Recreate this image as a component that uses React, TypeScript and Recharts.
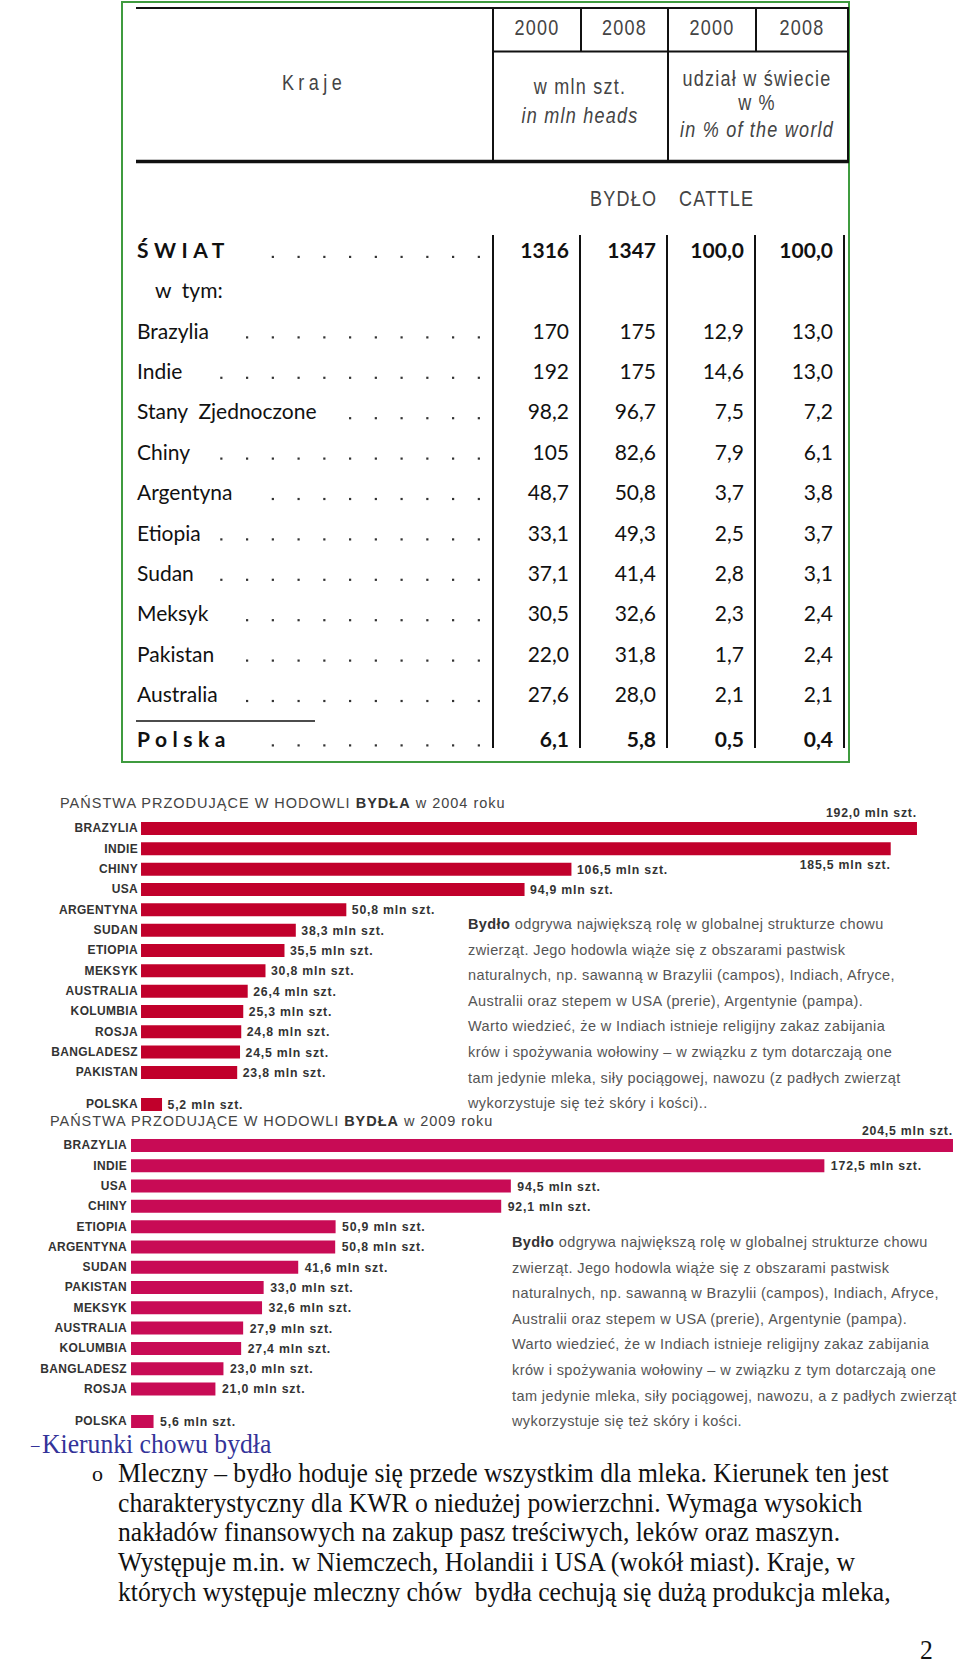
import React from 'react';
import { BarChart, Bar, XAxis, YAxis, LabelList } from 'recharts';

// ---------------- Table data ----------------
const headerYears = ['2000', '2008', '2000', '2008'];
const tableCountries = ['Brazylia', 'Indie', 'Stany\u00a0 Zjednoczone', 'Chiny', 'Argentyna', 'Etiopia', 'Sudan', 'Meksyk', 'Pakistan', 'Australia'];
const heads2000 = ['170', '192', '98,2', '105', '48,7', '33,1', '37,1', '30,5', '22,0', '27,6'];
const heads2008 = ['175', '175', '96,7', '82,6', '50,8', '49,3', '41,4', '32,6', '31,8', '28,0'];
const share2000 = ['12,9', '14,6', '7,5', '7,9', '3,7', '2,5', '2,8', '2,3', '1,7', '2,1'];
const share2008 = ['13,0', '13,0', '7,2', '6,1', '3,8', '3,7', '3,1', '2,4', '2,4', '2,1'];
const worldLabel = 'ŚWIAT';
const worldValues = ['1316', '1347', '100,0', '100,0'];
const polandLabel = 'Polska';
const polandValues = ['6,1', '5,8', '0,5', '0,4'];

// ---------------- Chart data ----------------
const cats2004 = ['BRAZYLIA', 'INDIE', 'CHINY', 'USA', 'ARGENTYNA', 'SUDAN', 'ETIOPIA', 'MEKSYK', 'AUSTRALIA', 'KOLUMBIA', 'ROSJA', 'BANGLADESZ', 'PAKISTAN'];
const vals2004 = [192.0, 185.5, 106.5, 94.9, 50.8, 38.3, 35.5, 30.8, 26.4, 25.3, 24.8, 24.5, 23.8];
const cats2009 = ['BRAZYLIA', 'INDIE', 'USA', 'CHINY', 'ETIOPIA', 'ARGENTYNA', 'SUDAN', 'PAKISTAN', 'MEKSYK', 'AUSTRALIA', 'KOLUMBIA', 'BANGLADESZ', 'ROSJA'];
const vals2009 = [204.5, 172.5, 94.5, 92.1, 50.9, 50.8, 41.6, 33.0, 32.6, 27.9, 27.4, 23.0, 21.0];
const polandCat = ['POLSKA'];
const poland2004 = [5.2];
const poland2009 = [5.6];

// ---------------- Text ----------------
const title2004 = ['PAŃSTWA PRZODUJĄCE W HODOWLI ', 'BYDŁA', ' w 2004 roku'];
const title2009 = ['PAŃSTWA PRZODUJĄCE W HODOWLI ', 'BYDŁA', ' w 2009 roku'];
const paraLead = 'Bydło';
const para2004 = [
  ' odgrywa największą rolę w globalnej strukturze chowu',
  'zwierząt. Jego hodowla wiąże się z obszarami pastwisk',
  'naturalnych, np. sawanną w Brazylii (campos), Indiach, Afryce,',
  'Australii oraz stepem w USA (prerie), Argentynie (pampa).',
  'Warto wiedzieć, że w Indiach istnieje religijny zakaz zabijania',
  'krów i spożywania wołowiny – w związku z tym dotarczają one',
  'tam jedynie mleka, siły pociągowej, nawozu (z padłych zwierząt',
  'wykorzystuje się też skóry i kości)..',
];
const para2009 = [
  ' odgrywa największą rolę w globalnej strukturze chowu',
  'zwierząt. Jego hodowla wiąże się z obszarami pastwisk',
  'naturalnych, np. sawanną w Brazylii (campos), Indiach, Afryce,',
  'Australii oraz stepem w USA (prerie), Argentynie (pampa).',
  'Warto wiedzieć, że w Indiach istnieje religijny zakaz zabijania',
  'krów i spożywania wołowiny – w związku z tym dotarczają one',
  'tam jedynie mleka, siły pociągowej, nawozu, a z padłych zwierząt',
  'wykorzystuje się też skóry i kości.',
];
const sectionHeading = 'Kierunki chowu bydła';
const bodyLines = [
  'Mleczny – bydło hoduje się przede wszystkim dla mleka. Kierunek ten jest',
  'charakterystyczny dla KWR o niedużej powierzchni. Wymaga wysokich',
  'nakładów finansowych na zakup pasz treściwych, leków oraz maszyn.',
  'Występuje m.in. w Niemczech, Holandii i USA (wokół miast). Kraje, w',
  'których występuje mleczny chów\u00a0 bydła cechują się dużą produkcja mleka,',
];
const pageNumber = '2';

// ---------------- helpers ----------------
const fmt = (v: number) => v.toFixed(1).replace('.', ',') + ' mln szt.';

let measureCtx: CanvasRenderingContext2D | null = null;
function textWidth(t: string, font: string, spacing: number) {
  if (typeof document === 'undefined') return t.length * 10;
  if (!measureCtx) measureCtx = document.createElement('canvas').getContext('2d');
  if (!measureCtx) return t.length * 10;
  measureCtx.font = font;
  return measureCtx.measureText(t).width + spacing * t.length;
}

const CategoryTick = (props: any) => {
  const { x, y, payload } = props;
  return (
    <text x={x} y={y} dy="0.36em" textAnchor="end" fontFamily='"Liberation Sans", Arial, sans-serif'
      fontWeight="bold" fontSize={12} fill="#333" letterSpacing={0.35}>
      {payload.value}
    </text>
  );
};

const makeLabel = (modes: string[], gap: number, aboveOff: number) => (props: any) => {
  const vb = props.viewBox && props.viewBox.width != null ? props.viewBox : props;
  const x = Number(vb.x), y = Number(vb.y), w = Number(vb.width), h = Number(vb.height);
  const idx = props.index;
  const mode = modes[idx] || 'right';
  const common = {
    fontFamily: '"Liberation Sans", Arial, sans-serif', fontWeight: 'bold' as const, fontSize: 12.3,
    fill: '#333', letterSpacing: 0.8,
  };
  const txt = fmt(Number(props.value));
  if (mode === 'above') return <text x={x + w} y={y - aboveOff} textAnchor="end" {...common}>{txt}</text>;
  if (mode === 'below') return <text x={x + w} y={y + h + 14} textAnchor="end" {...common}>{txt}</text>;
  return <text x={x + w + gap} y={y + h / 2} dy="0.36em" {...common}>{txt}</text>;
};

type ChartProps = {
  cats: string[]; vals: number[]; domainMax: number; plotTop: number; band: number;
  plotLeft: number; plotRight: number; color: string; modes: string[]; labelGap: number;
  tickGap: number; aboveOff: number;
};

function CattleBars(p: ChartProps) {
  const data = p.cats.map((name, i) => ({ name, value: p.vals[i] }));
  const padTop = 30, padBottom = 26;
  const h = p.band * p.cats.length + padTop + padBottom;
  return (
    <div style={{ position: 'absolute', left: 0, top: p.plotTop - padTop, width: 960, height: h }}>
      <BarChart width={960} height={h} data={data} layout="vertical"
        margin={{ top: padTop, bottom: padBottom, left: 0, right: 960 - p.plotRight }} barCategoryGap={0}>
        <XAxis type="number" domain={[0, p.domainMax]} allowDataOverflow hide />
        <YAxis type="category" dataKey="name" width={p.plotLeft} axisLine={false} tickLine={false}
          tickSize={0} tickMargin={p.tickGap} interval={0} tick={<CategoryTick />} />
        <Bar dataKey="value" fill={p.color} barSize={13} isAnimationActive={false}>
          <LabelList dataKey="value" content={makeLabel(p.modes, p.labelGap, p.aboveOff)} />
        </Bar>
      </BarChart>
    </div>
  );
}

// ---------------- Table ----------------
const bodyFont = 'Lato, "Noto Sans", sans-serif';
const bodyLinesX = [493, 580, 667, 755, 844];
const headLinesX = [493, 581, 668, 756, 848];
const DOT_X0 = 247;
const DOT_STEP = 25.75;

function HeadText({ x, y, anchor = 'middle', italic = false, ls = 1.5, children }:
  { x: number; y: number; anchor?: 'start' | 'middle' | 'end'; italic?: boolean; ls?: number; children: React.ReactNode }) {
  return (
    <text transform={`translate(${x},${y}) scale(0.82,1)`} x={0} y={0} textAnchor={anchor}
      fontFamily='"Liberation Sans", Arial, sans-serif' fontSize={22} fill="#444" letterSpacing={ls}
      fontStyle={italic ? 'italic' : 'normal'}>
      {children}
    </text>
  );
}

function Leader({ label, y, bold, spacing }: { label: string; y: number; bold: boolean; spacing: number }) {
  const font = `${bold ? 'bold ' : ''}21px Lato`;
  const end = 137 + textWidth(label, font, spacing);
  const dots: number[] = [];
  for (let k = -4; k <= 9; k++) {
    const dx = DOT_X0 + k * DOT_STEP;
    if (dx >= end + 18) dots.push(dx);
  }
  return (
    <g>
      {dots.map((dx, i) => <rect key={i} x={dx - 1} y={y - 2.2} width={2.2} height={2.2} fill="#333" />)}
    </g>
  );
}

function Table() {
  const rowY = (i: number) => 331 + i * 40.4;
  const txt = (s: string, x: number, y: number, bold = false, spacing = 0, anchor: 'start' | 'end' = 'start') => (
    <text x={x} y={y} fontFamily={bodyFont} fontSize={21} fontWeight={bold ? 'bold' : 'normal'} fill="#111"
      letterSpacing={spacing} textAnchor={anchor}>{s}</text>
  );
  const numRow = (vals: string[], y: number, bold: boolean) =>
    vals.map((v, j) => <g key={j}>{txt(v, bodyLinesX[j + 1] - 11, y, bold, 0, 'end')}</g>);
  return (
    <g>
      <rect x={122} y={2} width={727} height={760} fill="none" stroke="#3f9b3f" strokeWidth={2} />
      <line x1={136} y1={8} x2={849} y2={8} stroke="#111" strokeWidth={2} />
      <line x1={493} y1={51.5} x2={849} y2={51.5} stroke="#111" strokeWidth={2} />
      <line x1={136} y1={161.5} x2={849} y2={161.5} stroke="#111" strokeWidth={3.5} />
      {headLinesX.map((x, i) => (
        <line key={i} x1={x} y1={8} x2={x} y2={i === 1 || i === 3 ? 51.5 : 161.5} stroke="#111" strokeWidth={2} />
      ))}
      {headerYears.map((yr, i) => (
        <HeadText key={i} x={(headLinesX[i] + headLinesX[i + 1]) / 2} y={35}>{yr}</HeadText>
      ))}
      <HeadText x={314} y={90} ls={5.4}>Kraje</HeadText>
      <HeadText x={580} y={94}>w mln szt.</HeadText>
      <HeadText x={580} y={123} italic>in mln heads</HeadText>
      <HeadText x={757} y={86}>udział w świecie</HeadText>
      <HeadText x={757} y={110}>w %</HeadText>
      <HeadText x={757} y={137} italic>in % of the world</HeadText>
      <HeadText x={590} y={206} anchor="start">BYDŁO</HeadText>
      <HeadText x={679} y={206} anchor="start">CATTLE</HeadText>
      {bodyLinesX.map((x, i) => (
        <line key={i} x1={x} y1={235} x2={x} y2={748} stroke="#111" strokeWidth={2} />
      ))}
      {txt(worldLabel, 137, 258, true, 5.5)}
      <Leader label={worldLabel} y={258} bold spacing={5.5} />
      {numRow(worldValues, 258, true)}
      {txt('w\u00a0 tym:', 155, 298)}
      {tableCountries.map((c, i) => (
        <g key={c}>
          {txt(c, 137, rowY(i) + 7.5)}
          <Leader label={c} y={rowY(i) + 7.5} bold={false} spacing={0} />
          {numRow([heads2000[i], heads2008[i], share2000[i], share2008[i]], rowY(i) + 7.5, false)}
        </g>
      ))}
      <line x1={136} y1={721} x2={315} y2={721} stroke="#111" strokeWidth={1.5} />
      {txt(polandLabel, 137, 746.5, true, 5.5)}
      <Leader label={polandLabel} y={746.5} bold spacing={5.5} />
      {numRow(polandValues, 746.5, true)}
    </g>
  );
}

function Title({ parts, x, y, ls }: { parts: string[]; x: number; y: number; ls: number }) {
  return (
    <text x={x} y={y} fontFamily='"Liberation Sans", Arial, sans-serif' fontSize={14.5} fill="#444"
      letterSpacing={ls} style={{ whiteSpace: 'pre' }}>
      <tspan>{parts[0]}</tspan>
      <tspan fontWeight="bold" fill="#333">{parts[1]}</tspan>
      <tspan>{parts[2]}</tspan>
    </text>
  );
}

function Paragraph({ lines, x, y0 }: { lines: string[]; x: number; y0: number }) {
  return (
    <g fontFamily='"Liberation Sans", Arial, sans-serif' fontSize={14.5} fill="#555" letterSpacing={0.4}>
      {lines.map((l, i) => (
        <text key={i} x={x} y={y0 + i * 25.6 + 5} style={{ whiteSpace: 'pre' }}>
          {i === 0 ? <><tspan fontWeight="bold" fill="#333">{paraLead}</tspan>{l}</> : l}
        </text>
      ))}
    </g>
  );
}

function SerifText({ x, y, fill, children }: { x: number; y: number; fill: string; children: React.ReactNode }) {
  return (
    <text transform={`translate(${x},${y}) scale(0.95,1)`} x={0} y={0} fill={fill}
      fontFamily='"Liberation Serif", "Times New Roman", serif' fontSize={27}>
      {children}
    </text>
  );
}

export default function App() {
  const max2004 = Math.max(...vals2004);
  const max2009 = Math.max(...vals2009);
  const band1 = 20.33;
  const band2 = 20.29;
  return (
    <div style={{ position: 'absolute', left: 0, top: 0, width: 960, height: 1660, background: '#fff', overflow: 'hidden' }}>
      <svg width={960} height={1660} style={{ position: 'absolute', left: 0, top: 0 }}>
        <Table />
        <Title parts={title2004} x={60} y={808} ls={1.0} />
        <Title parts={title2009} x={50} y={1126} ls={0.95} />
        <Paragraph lines={para2004} x={468} y0={924} />
        <Paragraph lines={para2009} x={512} y0={1242} />
        <text x={31} y={1450} fill="#333399" fontFamily='"Liberation Serif", serif' fontSize={17}>–</text>
        <SerifText x={42} y={1453} fill="#333399">{sectionHeading}</SerifText>
        <text x={92} y={1481} fill="#111" fontFamily='"Liberation Serif", serif' fontSize={22}>o</text>
        {bodyLines.map((l, i) => (
          <SerifText key={i} x={118} y={1482 + i * 29.7} fill="#111">{l}</SerifText>
        ))}
        <SerifText x={920} y={1659} fill="#111">{pageNumber}</SerifText>
      </svg>
      <CattleBars cats={cats2004} vals={vals2004} domainMax={max2004} plotTop={828 - band1 / 2} band={band1}
        plotLeft={141} plotRight={917} color="#c1002b" modes={['above', 'below']} labelGap={5.5} tickGap={3} aboveOff={5} />
      <CattleBars cats={polandCat} vals={poland2004} domainMax={max2004} plotTop={1104 - band1 / 2} band={band1}
        plotLeft={141} plotRight={917} color="#c1002b" modes={[]} labelGap={5.5} tickGap={3} aboveOff={5} />
      <CattleBars cats={cats2009} vals={vals2009} domainMax={max2009} plotTop={1145.5 - band2 / 2} band={band2}
        plotLeft={131} plotRight={953} color="#c80b55" modes={['above']} labelGap={6.5} tickGap={4} aboveOff={4} />
      <CattleBars cats={polandCat} vals={poland2009} domainMax={max2009} plotTop={1421 - band2 / 2} band={band2}
        plotLeft={131} plotRight={953} color="#c80b55" modes={[]} labelGap={6.5} tickGap={4} aboveOff={4} />
    </div>
  );
}
